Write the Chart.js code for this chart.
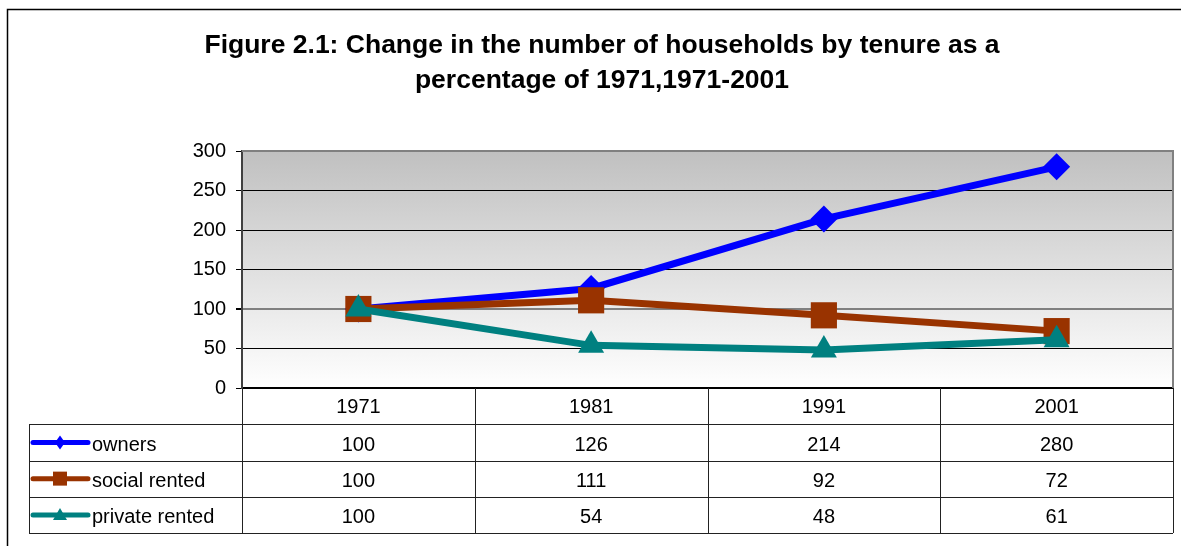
<!DOCTYPE html>
<html>
<head>
<meta charset="utf-8">
<script src="https://cdn.jsdelivr.net/npm/chart.js@4.4.0/dist/chart.umd.min.js"></script>
<style>
  html, body { margin: 0; padding: 0; background: #fff; overflow: hidden; }
  #wrap { width: 1181px; height: 546px; }
</style>
</head>
<body>
<div id="wrap"><canvas id="tenureChart" width="1181" height="546"></canvas></div>
<script>
// Households by tenure, indexed to 1971 = 100
const years = ['1971', '1981', '1991', '2001'];
const owners = [100, 126, 214, 280];
const socialRented = [100, 111, 92, 72];
const privateRented = [100, 54, 48, 61];
const seriesNames = ['owners', 'social rented', 'private rented'];
const seriesColors = ['#0000ff', '#993300', '#008080'];
const yTicks = [0, 50, 100, 150, 200, 250, 300];

const FONT = '"Liberation Sans", Arial, sans-serif';

// draws the frame, the grey fade and the data table under the plot
const frameAndTable = {
    id: 'frameAndTable',
    beforeDraw(chart) {
        const ctx = chart.ctx;
        const a = chart.chartArea;
        ctx.save();
        ctx.fillStyle = '#fff';
        ctx.fillRect(0, 0, chart.width, chart.height);
        // outer frame, cut off at right and bottom like the original
        ctx.strokeStyle = '#000';
        ctx.lineWidth = 1.5;
        ctx.strokeRect(7.5, 9.5, chart.width + 20, chart.height + 20);
        const g = ctx.createLinearGradient(0, a.top, 0, a.bottom);
        g.addColorStop(0, '#c0c0c0');
        g.addColorStop(1, '#ffffff');
        ctx.fillStyle = g;
        ctx.fillRect(a.left, a.top, a.right - a.left, a.bottom - a.top);
        ctx.restore();
    },
    afterDraw(chart) {
        const ctx = chart.ctx;
        const a = chart.chartArea;
        const xs = chart.scales.x;
        ctx.save();

        // plot border, top and right
        ctx.strokeStyle = '#808080';
        ctx.lineWidth = 2;
        ctx.beginPath();
        ctx.moveTo(a.left, a.top);
        ctx.lineTo(a.right, a.top);
        ctx.lineTo(a.right, a.bottom);
        ctx.stroke();

        const top = a.bottom;
        const bottom = xs.bottom;
        const rowH = (bottom - top) / (seriesNames.length + 1);
        const step = (a.right - a.left) / years.length;
        const legendLeft = 29;

        const line = (x1, y1, x2, y2) => {
            ctx.beginPath();
            ctx.moveTo(x1, y1);
            ctx.lineTo(x2, y2);
            ctx.stroke();
        };

        ctx.strokeStyle = '#222';
        ctx.lineWidth = 1;
        for (let i = 0; i <= years.length; i++) {
            const vx = Math.round(a.left + i * step) + 0.5;
            line(vx, top, vx, bottom);
        }
        for (let r = 1; r <= seriesNames.length + 1; r++) {
            const hy = Math.round(top + r * rowH) + 0.5;
            line(legendLeft, hy, a.right, hy);
        }
        line(legendLeft + 0.5, Math.round(top + rowH), legendLeft + 0.5, Math.round(bottom) + 1);

        // values and legend keys
        ctx.font = '20px ' + FONT;
        ctx.textBaseline = 'middle';
        chart.data.datasets.forEach((ds, s) => {
            const cy = top + (s + 1.5) * rowH + 3;
            ctx.fillStyle = '#000';
            ctx.textAlign = 'center';
            ds.data.forEach((v, i) => {
                ctx.fillText(String(v), xs.getPixelForValue(i), cy);
            });
            ctx.textAlign = 'left';
            ctx.fillText(seriesNames[s], 92, cy);

            const col = seriesColors[s];
            ctx.strokeStyle = col;
            ctx.fillStyle = col;
            ctx.lineWidth = 5;
            ctx.lineCap = 'round';
            const my = cy - 3;
            line(33, my, 88, my);
            const mx = 60;
            ctx.beginPath();
            if (s === 0) {
                ctx.moveTo(mx, my - 7);
                ctx.lineTo(mx + 5, my);
                ctx.lineTo(mx, my + 7);
                ctx.lineTo(mx - 5, my);
            } else if (s === 1) {
                ctx.rect(mx - 7, my - 7, 14, 14);
            } else {
                ctx.moveTo(mx, my - 7);
                ctx.lineTo(mx + 7, my + 5);
                ctx.lineTo(mx - 7, my + 5);
            }
            ctx.closePath();
            ctx.fill();
            ctx.strokeStyle = '#222';
            ctx.lineWidth = 1;
            ctx.lineCap = 'butt';
        });
        ctx.restore();
    }
};

const seriesData = [owners, socialRented, privateRented];
const pointStyles = ['rectRot', 'rect', 'triangle'];
const pointSizes = [13.5, 18.5, 15];

const chart = new Chart(document.getElementById('tenureChart'), {
    type: 'line',
    data: {
        labels: years,
        datasets: seriesNames.map((name, s) => ({
            label: name,
            data: seriesData[s],
            borderColor: seriesColors[s],
            backgroundColor: seriesColors[s],
            borderWidth: 7,
            tension: 0,
            pointStyle: pointStyles[s],
            pointRadius: pointSizes[s],
            pointBorderWidth: 0,
            pointBackgroundColor: seriesColors[s],
            order: 2 - s,
            clip: false
        }))
    },
    options: {
        responsive: false,
        animation: false,
        layout: {
            autoPadding: false,
            padding: { left: 31, right: 8, top: 0, bottom: 13 }
        },
        plugins: {
            legend: { display: false },
            tooltip: { enabled: false },
            title: {
                display: true,
                text: ['Figure 2.1: Change in the number of households by tenure as a',
                       'percentage of 1971,1971-2001'],
                color: '#000',
                font: { family: FONT, size: 26.5, weight: 'bold', lineHeight: '35px' },
                padding: { top: 28, bottom: 53 }
            }
        },
        scales: {
            x: {
                offset: true,
                grid: { display: false, drawTicks: false },
                border: { display: true, color: '#000', width: 2 },
                ticks: {
                    color: '#000',
                    font: { family: FONT, size: 20 },
                    padding: 7,
                    maxRotation: 0
                },
                afterFit(scale) {
                    scale.height = 145;
                    scale.paddingLeft = 0;
                    scale.paddingRight = 0;
                }
            },
            y: {
                min: yTicks[0],
                max: yTicks[yTicks.length - 1],
                ticks: {
                    stepSize: yTicks[1] - yTicks[0],
                    color: '#000',
                    font: { family: FONT, size: 20 },
                    padding: 10
                },
                grid: {
                    color: (c) => (c.tick && (c.tick.value === 100 || c.tick.value === 300)) ? '#808080' : '#000',
                    lineWidth: (c) => (c.tick && c.tick.value === 100) ? 2 : 1,
                    tickLength: 6,
                    tickColor: '#000'
                },
                border: { color: '#404040', width: 2 },
                afterFit(scale) { scale.width = 211; }
            }
        }
    },
    plugins: [frameAndTable]
});
</script>
</body>
</html>
